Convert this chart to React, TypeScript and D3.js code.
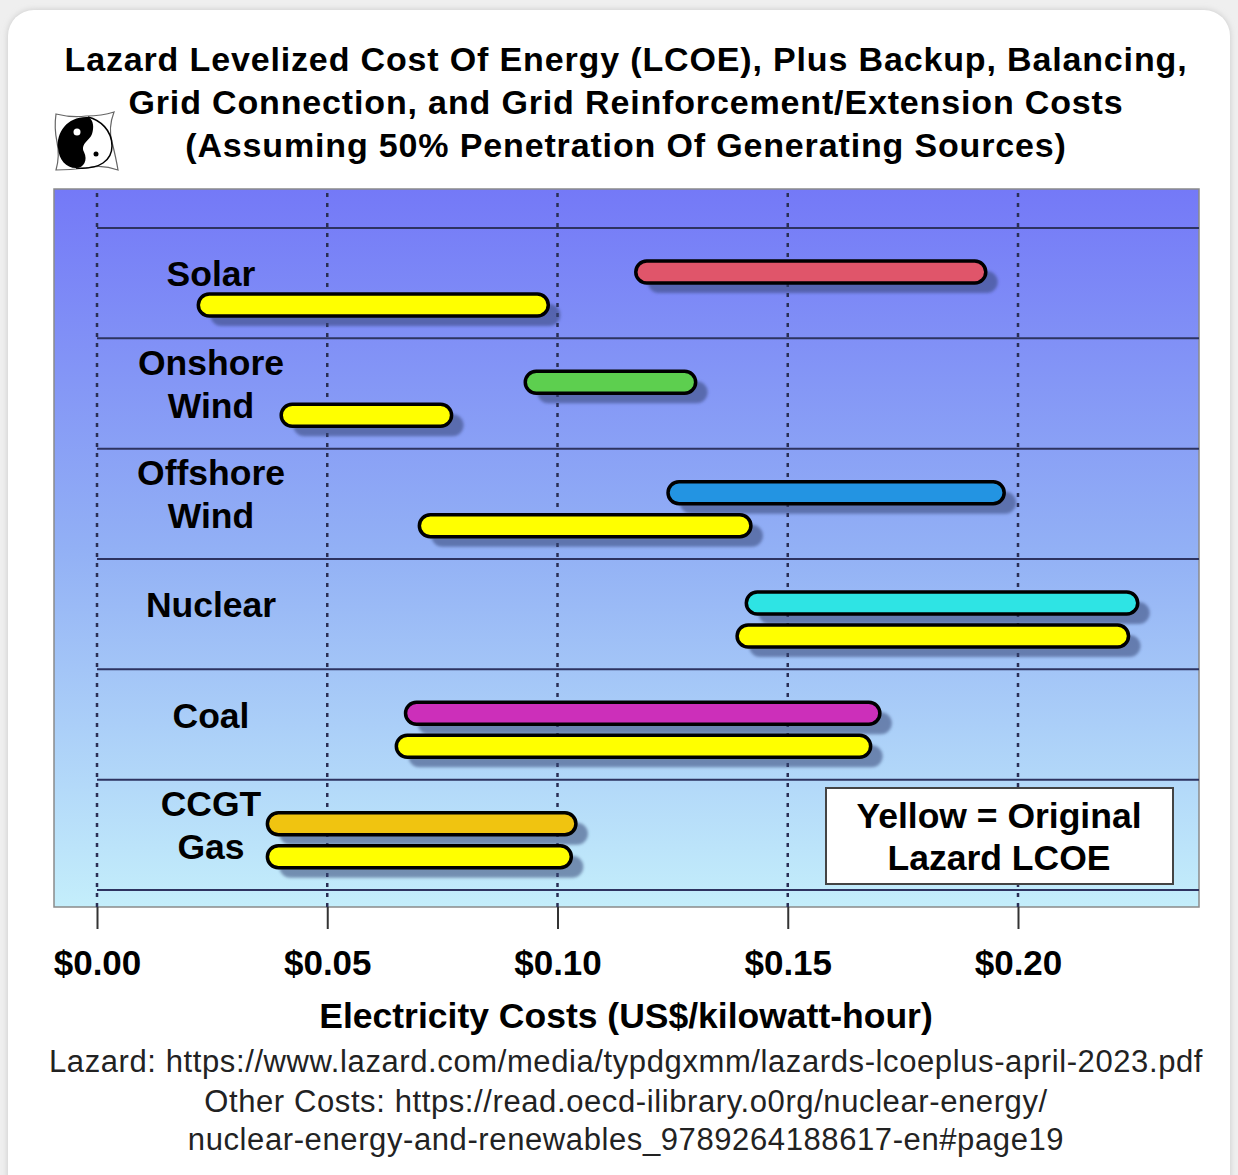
import { useEffect, useRef } from "react";
import * as d3 from "d3";

const W = 1238,
  H = 1175;
const plot = { left: 54, right: 1199, top: 189, bottom: 907 };

const categories = ["Solar", "Onshore Wind", "Offshore Wind", "Nuclear", "Coal", "CCGT Gas"];
const categoryLines = [["Solar"], ["Onshore", "Wind"], ["Offshore", "Wind"], ["Nuclear"], ["Coal"], ["CCGT", "Gas"]];
// LCOE plus backup/balancing/grid costs (US$/kWh)
const fullLow = [0.117, 0.093, 0.124, 0.141, 0.067, 0.037];
const fullHigh = [0.193, 0.130, 0.197, 0.226, 0.170, 0.104];
const fullColors = ["#e0556a", "#5dcf4f", "#2394e2", "#2ee4e4", "#cc2fba", "#f0c410"];
// original Lazard LCOE (yellow)
const lcoeLow = [0.022, 0.040, 0.070, 0.139, 0.065, 0.037];
const lcoeHigh = [0.098, 0.077, 0.142, 0.224, 0.168, 0.103];
const xTicks = [0, 0.05, 0.1, 0.15, 0.2];

const titleLines = [
  "Lazard Levelized Cost Of Energy (LCOE), Plus Backup, Balancing,",
  "Grid Connection, and Grid Reinforcement/Extension Costs",
  "(Assuming 50% Penetration Of Generating Sources)",
];
const sourceLines = [
  "Lazard: https://www.lazard.com/media/typdgxmm/lazards-lcoeplus-april-2023.pdf",
  "Other Costs: https://read.oecd-ilibrary.o0rg/nuclear-energy/",
  "nuclear-energy-and-renewables_9789264188617-en#page19",
];

const FONT = "'Liberation Sans', Arial, Helvetica, sans-serif";

function LcoeChart() {
  const svgRef = useRef(null);

  const buildSVG = () => {
    const svg = d3.select(svgRef.current);
    svg.selectAll("*").remove();
    svg.attr("width", W).attr("height", H);

    const defs = svg.append("defs");
    const grad = defs
      .append("linearGradient")
      .attr("id", "bg")
      .attr("x1", 0)
      .attr("y1", 0)
      .attr("x2", 0)
      .attr("y2", 1);
    grad.append("stop").attr("offset", "0%").attr("stop-color", "#7479f7");
    grad.append("stop").attr("offset", "50%").attr("stop-color", "#92b0f5");
    grad.append("stop").attr("offset", "100%").attr("stop-color", "#c4eefb");

    const blur = defs.append("filter").attr("id", "soft").attr("x", "-10%").attr("y", "-50%").attr("width", "120%").attr("height", "200%");
    blur.append("feGaussianBlur").attr("stdDeviation", 1.5);

    const cardShadow = defs.append("filter").attr("id", "cardsh").attr("x", "-5%").attr("y", "-5%").attr("width", "110%").attr("height", "110%");
    cardShadow.append("feGaussianBlur").attr("stdDeviation", 3);

    // page background + card
    svg.append("rect").attr("width", W).attr("height", H).attr("fill", "#efefef");
    svg
      .append("rect")
      .attr("x", 8)
      .attr("y", 10)
      .attr("width", 1222)
      .attr("height", 1200)
      .attr("rx", 26)
      .attr("fill", "#c8c8c8")
      .attr("filter", "url(#cardsh)");
    svg
      .append("rect")
      .attr("x", 8)
      .attr("y", 10)
      .attr("width", 1222)
      .attr("height", 1200)
      .attr("rx", 26)
      .attr("fill", "#ffffff");

    // title
    svg
      .append("g")
      .selectAll("text")
      .data(titleLines)
      .enter()
      .append("text")
      .attr("x", 626)
      .attr("y", (d, i) => 71 + i * 43)
      .attr("text-anchor", "middle")
      .style("font-family", FONT)
      .style("font-weight", "bold")
      .style("font-size", "34px")
      .style("letter-spacing", "0.85px")
      .text((d) => d);

    // logo (yin-yang penguin)
    const logo = svg.append("g").attr("transform", "translate(86,142)");
    logo
      .append("path")
      .attr("d", "M-30,-28 Q-14,-24 0,-26 Q16,-26 28,-30 Q22,-14 26,0 Q30,16 32,28 Q16,22 0,26 Q-16,28 -30,28 Q-26,14 -29,0 Q-32,-14 -30,-28 Z")
      .attr("fill", "#fff")
      .attr("stroke", "#666")
      .attr("stroke-width", 1.2);
    logo
      .append("path")
      .attr("d", "M2,-25 C-18,-26 -30,-10 -28,6 C-27,18 -20,26 -10,26 C-2,26 2,18 -2,10 C-6,2 4,-2 6,-8 C8,-14 8,-22 2,-25 Z")
      .attr("fill", "#000");
    logo
      .append("path")
      .attr("d", "M2,-25 C14,-22 26,-12 26,4 C26,18 14,28 -10,26")
      .attr("fill", "none")
      .attr("stroke", "#000")
      .attr("stroke-width", 1.5);
    logo.append("circle").attr("cx", -9).attr("cy", -10).attr("r", 3.5).attr("fill", "#fff");
    logo.append("circle").attr("cx", 10).attr("cy", 12).attr("r", 2.5).attr("fill", "#000");

    // scales
    const x = d3
      .scaleLinear()
      .domain([0, 0.2])
      .range([97, 1018]);
    const y = d3
      .scaleBand()
      .domain(categories)
      .range([228, 890])
      .padding(0);
    const bh = 22;

    // plot background
    svg
      .append("rect")
      .attr("x", plot.left)
      .attr("y", plot.top)
      .attr("width", plot.right - plot.left)
      .attr("height", plot.bottom - plot.top)
      .attr("fill", "url(#bg)")
      .attr("stroke", "#8a8a8a")
      .attr("stroke-width", 1.5);

    // dotted vertical grid
    svg
      .append("g")
      .selectAll("line")
      .data(xTicks)
      .enter()
      .append("line")
      .attr("x1", (d) => x(d))
      .attr("x2", (d) => x(d))
      .attr("y1", plot.top + 4)
      .attr("y2", plot.bottom)
      .attr("stroke", "#2a2f55")
      .attr("stroke-width", 2.5)
      .attr("stroke-dasharray", "4,6");

    // row separators
    const seps = categories.map((c) => y(c) as number).concat([y.range()[1]]);
    svg
      .append("g")
      .selectAll("line")
      .data(seps)
      .enter()
      .append("line")
      .attr("x1", x(0))
      .attr("x2", plot.right)
      .attr("y1", (d) => d)
      .attr("y2", (d) => d)
      .attr("stroke", "#2d3360")
      .attr("stroke-width", 2);

    // x axis ticks below plot
    const xAxis = d3
      .axisBottom(x)
      .tickValues(xTicks)
      .tickSize(22)
      .tickFormat((d) => "$" + d3.format(".2f")(d as number));
    const ax = svg.append("g").attr("transform", "translate(0," + plot.bottom + ")").call(xAxis);
    ax.select(".domain").remove();
    ax.selectAll(".tick line").attr("stroke", "#333").attr("stroke-width", 2);
    ax.selectAll(".tick text")
      .attr("y", 68)
      .attr("dy", 0)
      .attr("fill", "#000")
      .style("font-family", FONT)
      .style("font-weight", "bold")
      .style("font-size", "35px");

    // bars
    const drawBars = (low: number[], high: number[], colors: (i: number) => string, off: number) => {
      const g = svg.append("g");
      g.selectAll("rect.sh")
        .data(categories)
        .enter()
        .append("rect")
        .attr("class", "sh")
        .attr("x", (d, i) => x(low[i]) + 12)
        .attr("y", (d) => (y(d) as number) + off - bh / 2 + 10)
        .attr("width", (d, i) => x(high[i]) - x(low[i]))
        .attr("height", bh)
        .attr("rx", bh / 2)
        .attr("fill", "#354575")
        .attr("opacity", 0.55)
        .attr("filter", "url(#soft)");
      g.selectAll("rect.bar")
        .data(categories)
        .enter()
        .append("rect")
        .attr("class", "bar")
        .attr("x", (d, i) => x(low[i]))
        .attr("y", (d) => (y(d) as number) + off - bh / 2)
        .attr("width", (d, i) => x(high[i]) - x(low[i]))
        .attr("height", bh)
        .attr("rx", bh / 2)
        .attr("fill", (d, i) => colors(i))
        .attr("stroke", "#000")
        .attr("stroke-width", 3.5);
    };
    drawBars(fullLow, fullHigh, (i) => fullColors[i], 44);
    drawBars(lcoeLow, lcoeHigh, () => "#ffff00", 77);

    // category labels
    const lab = svg.append("g");
    categoryLines.forEach((lines, i) => {
      const cy = (y(categories[i]) as number) + y.bandwidth() / 2 - 9;
      lines.forEach((t, j) => {
        lab
          .append("text")
          .attr("x", 211)
          .attr("y", cy + (j - (lines.length - 1) / 2) * 43 + 12)
          .attr("text-anchor", "middle")
          .style("font-family", FONT)
          .style("font-weight", "bold")
          .style("font-size", "35.5px")
          .text(t);
      });
    });

    // legend box
    const lg = svg.append("g");
    lg.append("rect")
      .attr("x", 826)
      .attr("y", 788)
      .attr("width", 347)
      .attr("height", 96)
      .attr("fill", "#fff")
      .attr("stroke", "#444")
      .attr("stroke-width", 2);
    lg.selectAll("text")
      .data(["Yellow = Original", "Lazard LCOE"])
      .enter()
      .append("text")
      .attr("x", 999)
      .attr("y", (d, i) => 828 + i * 42)
      .attr("text-anchor", "middle")
      .style("font-family", FONT)
      .style("font-weight", "bold")
      .style("font-size", "35.5px")
      .text((d) => d);

    // axis title
    svg
      .append("text")
      .attr("x", 626)
      .attr("y", 1028)
      .attr("text-anchor", "middle")
      .style("font-family", FONT)
      .style("font-weight", "bold")
      .style("font-size", "35.5px")
      .text("Electricity Costs (US$/kilowatt-hour)");

    // sources
    svg
      .append("g")
      .selectAll("text")
      .data(sourceLines)
      .enter()
      .append("text")
      .attr("x", 626)
      .attr("y", (d, i) => [1072, 1112, 1150][i])
      .attr("text-anchor", "middle")
      .attr("fill", "#222")
      .style("font-family", FONT)
      .style("font-size", "31px")
      .style("letter-spacing", "0.6px")
      .text((d) => d);
  };

  useEffect(buildSVG, []);

  return <svg ref={svgRef} style={{ position: "absolute", left: 0, top: 0, display: "block" }}></svg>;
}

export default function App() {
  return <LcoeChart />;
}
